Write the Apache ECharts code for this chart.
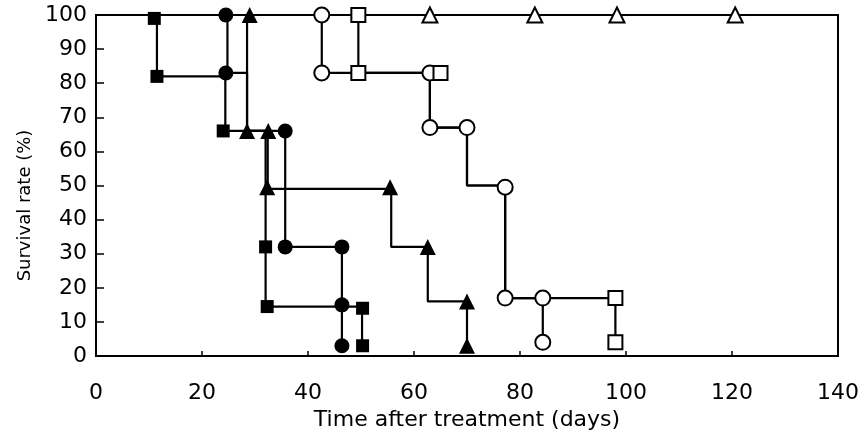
<!DOCTYPE html>
<html>
<head>
<meta charset="utf-8">
<script src="https://cdn.jsdelivr.net/npm/echarts@6/dist/echarts.min.js"></script>
<style>
  html, body { margin: 0; padding: 0; background: #fff; }
  #chart { width: 858px; height: 437px; }
</style>
</head>
<body>
<div id="chart"></div>
<script>
// x ticks / y ticks
const xTicks = [0, 20, 40, 60, 80, 100, 120, 140];
const yTicks = [0, 10, 20, 30, 40, 50, 60, 70, 80, 90, 100];

// step paths [day, survival %]
const sqFilledPath = [[0, 100], [11.5, 100], [11.5, 82], [24.4, 82], [24.4, 66], [32, 66], [32, 14.5], [50.2, 14.5], [50.2, 3]];
const ciFilledPath = [[0, 100], [24.8, 100], [24.8, 83], [28.5, 83], [28.5, 66], [35.7, 66], [35.7, 32], [46.4, 32], [46.4, 3]];
const trFilledPath = [[0, 100], [28.5, 100], [28.5, 66], [32.4, 66], [32.4, 49], [55.7, 49], [55.7, 32], [62.6, 32], [62.6, 16], [70, 16], [70, 3]];
const ciOpenPath = [[0, 100], [42.6, 100], [42.6, 83], [63, 83], [63, 67], [70, 67], [70, 50], [77.2, 50], [77.2, 17], [84.3, 17], [84.3, 4]];
const sqOpenPath = [[0, 100], [49.5, 100], [49.5, 83], [63, 83], [63, 67], [70, 67], [70, 50], [77.2, 50], [77.2, 17], [98, 17], [98, 4]];
const trOpenPath = [[0, 100], [140, 100]];

// marker positions
const sqFilledPts = [[11, 99], [11.5, 82], [24, 66], [32, 32], [32.3, 14.5], [50.3, 14], [50.3, 3]];
const ciFilledPts = [[24.5, 100], [24.5, 83], [35.7, 66], [35.7, 32], [46.4, 32], [46.4, 15], [46.4, 3]];
const trFilledPts = [[29, 100], [28.5, 66], [32.5, 66], [32.3, 49.5], [55.5, 49.5], [62.6, 32], [70, 16], [70, 3]];
const ciOpenPts = [[42.6, 100], [42.6, 83], [63, 83], [63, 67], [70, 67], [77.2, 49.5], [77.2, 17], [84.3, 17], [84.3, 4]];
const sqOpenPts = [[49.5, 100], [49.5, 83], [65, 83], [98, 17], [98, 4]];
const trOpenPts = [[63, 100], [82.8, 100], [98.3, 100], [120.6, 100]];

const chart = echarts.init(document.getElementById('chart'));
const font = 'DejaVu Sans';

function path(data) {
  return {
    type: 'line',
    data: data,
    showSymbol: false,
    silent: true,
    lineStyle: { color: '#000', width: 2.2 },
    z: 2
  };
}

function marks(data, symbol, filled, size) {
  return {
    type: 'scatter',
    data: data,
    symbol: symbol,
    symbolSize: size,
    itemStyle: {
      color: filled ? '#000' : '#fff',
      borderColor: '#000',
      borderWidth: filled ? 0 : 2,
      opacity: 1
    },
    z: 3
  };
}

chart.setOption({
  backgroundColor: '#fff',
  animation: false,
  grid: {
    left: 96, right: 20, top: 15, bottom: 81,
    outerBoundsMode: 'none',
    show: true, borderColor: '#000', borderWidth: 2, backgroundColor: 'transparent'
  },
  xAxis: {
    type: 'value', min: 0, max: 140, interval: 20,
    name: 'Time after treatment (days)',
    nameLocation: 'middle', nameGap: 40,
    nameTextStyle: { color: '#000', fontSize: 22, fontFamily: font },
    axisLine: { lineStyle: { color: '#000', width: 2 } },
    axisTick: { inside: true, length: 5, lineStyle: { color: '#000', width: 1.5 } },
    axisLabel: {
      color: '#000', fontSize: 22, fontFamily: font, margin: 26,
      formatter: v => xTicks.includes(v) ? String(v) : ''
    },
    splitLine: { show: false }
  },
  yAxis: {
    type: 'value', min: 0, max: 100, interval: 10,
    name: 'Survival rate (%)',
    nameLocation: 'middle', nameGap: 58, nameRotate: 90,
    nameTextStyle: { color: '#000', fontSize: 18, fontFamily: font, padding: [0, 40, 0, 0] },
    axisLine: { lineStyle: { color: '#000', width: 2 } },
    axisTick: { inside: true, length: 8, lineStyle: { color: '#000', width: 1.5 } },
    axisLabel: {
      color: '#000', fontSize: 22, fontFamily: font, margin: 9,
      formatter: v => yTicks.includes(v) ? String(v) : ''
    },
    splitLine: { show: false }
  },
  series: [
    path(trOpenPath),
    path(sqOpenPath),
    path(ciOpenPath),
    path(trFilledPath),
    path(ciFilledPath),
    path(sqFilledPath),
    marks(sqFilledPts, 'rect', true, 13),
    marks(ciFilledPts, 'circle', true, 15),
    marks(trFilledPts, 'triangle', true, 16),
    marks(ciOpenPts, 'circle', false, 15),
    marks(sqOpenPts, 'rect', false, 14),
    marks(trOpenPts, 'triangle', false, 15)
  ]
});
</script>
</body>
</html>
